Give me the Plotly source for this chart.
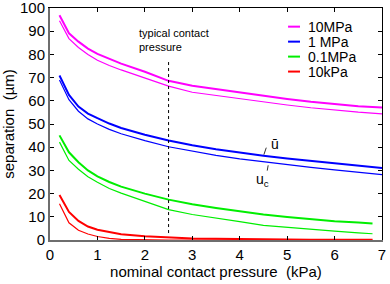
import plotly.graph_objects as go

# ---- data ----
x_long = [0.2, 0.4, 0.6, 0.8, 1.0, 1.25, 1.5, 2.0, 2.5, 3.0, 3.5, 4.0, 4.5, 5.0, 5.5, 6.0, 6.5, 7.0]
x_short = [0.2, 0.4, 0.6, 0.8, 1.0, 1.25, 1.5, 2.0, 2.5, 3.0, 3.5, 4.0, 4.5, 5.0, 5.5, 6.0, 6.5, 6.8]

mag_ubar = [96.9, 89.1, 85.5, 82.5, 80.2, 78.0, 76.0, 72.5, 68.6, 66.5, 65.0, 63.5, 62.0, 60.8, 59.6, 58.5, 57.7, 57.1]
mag_uc   = [94.5, 86.8, 83.0, 80.0, 77.5, 75.2, 73.3, 69.8, 66.3, 63.7, 62.3, 60.8, 59.5, 58.2, 57.0, 56.0, 55.1, 54.4]
blu_ubar = [70.9, 62.5, 57.5, 54.5, 52.5, 50.2, 48.3, 45.4, 42.9, 40.8, 39.1, 37.6, 36.3, 35.1, 34.0, 32.9, 31.9, 31.0]
blu_uc   = [69.0, 60.5, 55.5, 52.2, 50.0, 47.7, 45.8, 42.8, 40.2, 38.2, 36.5, 35.0, 33.7, 32.5, 31.3, 30.2, 29.1, 28.2]
grn_ubar = [45.1, 37.8, 33.5, 30.0, 27.4, 25.0, 23.0, 20.0, 17.4, 15.4, 13.8, 12.3, 11.0, 9.9, 8.9, 8.1, 7.5, 7.1]
grn_uc   = [42.2, 34.3, 30.5, 27.3, 24.9, 22.2, 20.2, 16.5, 13.1, 11.0, 9.3, 7.9, 6.3, 5.4, 4.6, 3.8, 3.1, 2.7]
red_ubar = [19.4, 12.1, 8.2, 5.8, 4.4, 3.3, 2.5, 1.6, 1.1, 0.7, 0.5, 0.35, 0.25, 0.2, 0.15, 0.1, 0.1, 0.1]
red_uc   = [15.6, 7.4, 4.2, 2.6, 1.5, 0.7, 0.3, 0.05, 0.0, 0.0, 0.0, 0.0, 0.0, 0.0, 0.0, 0.0, 0.0, 0.0]

labels = ["10MPa", "1 MPa", "0.1MPa", "10kPa"]
colors = ["#ff00ff", "#0000ff", "#00ee00", "#ff0000"]

x_ticks = [0, 1, 2, 3, 4, 5, 6, 7]
y_ticks = [0, 10, 20, 30, 40, 50, 60, 70, 80, 90, 100]
typical_pressure = 2.5

FONT = "Liberation Sans, Arial, sans-serif"

series = [
    (x_long, mag_ubar, mag_uc),
    (x_long, blu_ubar, blu_uc),
    (x_short, grn_ubar, grn_uc),
    (x_short, red_ubar, red_uc),
]

fig = go.Figure()
for (xs, ub, uc), lab, col in zip(series, labels, colors):
    fig.add_trace(go.Scatter(x=xs, y=uc, mode="lines", line=dict(color=col, width=1.2),
                             showlegend=False, hoverinfo="skip"))
    fig.add_trace(go.Scatter(x=xs, y=ub, mode="lines", line=dict(color=col, width=2),
                             name=lab, showlegend=False))

# invisible trace to activate top / right mirror axes
fig.add_trace(go.Scatter(x=[0], y=[0], xaxis="x2", yaxis="y2", mode="lines",
                         line=dict(width=0), showlegend=False, hoverinfo="skip"))

# typical contact pressure line
fig.add_shape(type="line", x0=typical_pressure, x1=typical_pressure, y0=3, y1=76.8,
              line=dict(color="black", width=1, dash="dot"))
fig.add_annotation(x=1.84, y=86.2, text="typical contact<br>pressure", showarrow=False,
                   xanchor="left", yanchor="middle", align="left",
                   font=dict(family=FONT, size=11, color="black"))

# u-bar / u_c labels with leader lines
fig.add_shape(type="line", x0=4.51, y0=36.8, x1=4.56, y1=39.8, line=dict(color="black", width=0.8))
fig.add_shape(type="line", x0=4.60, y0=32.2, x1=4.58, y1=29.9, line=dict(color="black", width=0.8))
fig.add_annotation(x=4.75, y=41.5, text="\u016b", showarrow=False,
                   font=dict(family=FONT, size=14, color="black"))
fig.add_annotation(x=4.49, y=26.0, text="u<sub>c</sub>", showarrow=False,
                   font=dict(family=FONT, size=14, color="black"))

# custom legend
leg_y = [0.9196, 0.855, 0.7905, 0.726]
for lab, col, yy in zip(labels, colors, leg_y):
    fig.add_shape(type="line", xref="paper", yref="paper", x0=0.717, x1=0.753, y0=yy, y1=yy,
                  line=dict(color=col, width=2))
    fig.add_annotation(xref="paper", yref="paper", x=0.771, y=yy, text=lab, showarrow=False,
                       xanchor="left", yanchor="middle",
                       font=dict(family=FONT, size=14, color="black"))

fig.update_layout(
    template="none",
    width=390, height=284,
    margin=dict(l=50, r=8, t=8, b=44, pad=0, autoexpand=False),
    paper_bgcolor="white", plot_bgcolor="white",
    font=dict(family=FONT, size=15, color="black"),
    xaxis=dict(range=[0, 7], tickvals=x_ticks, ticks="inside", ticklen=4, tickcolor="black",
               showline=True, linecolor="#6e6e6e", linewidth=2, showgrid=False, zeroline=False,
               ticklabeloverflow="allow", automargin=False,
               title=dict(text="nominal contact pressure  (kPa)", font=dict(size=15), standoff=2),
               tickfont=dict(size=15)),
    yaxis=dict(range=[0, 100], tickvals=y_ticks, ticks="inside", ticklen=4, tickcolor="black",
               showline=True, linecolor="#6e6e6e", linewidth=2, showgrid=False, zeroline=False,
               ticklabeloverflow="allow", automargin=False,
               title=dict(text="separation  (\u00b5m)", font=dict(size=15), standoff=10),
               tickfont=dict(size=15)),
    xaxis2=dict(range=[0, 7], overlaying="x", side="top", tickvals=x_ticks, ticks="inside",
                ticklen=4, tickcolor="black", showticklabels=False, showline=True, automargin=False,
                linecolor="black", linewidth=1, showgrid=False, zeroline=False),
    yaxis2=dict(range=[0, 100], overlaying="y", side="right", tickvals=y_ticks, ticks="inside",
                ticklen=4, tickcolor="black", showticklabels=False, showline=True, automargin=False,
                linecolor="black", linewidth=1, showgrid=False, zeroline=False),
)

fig.write_html("out.html", config={"displayModeBar": False},
               post_script="document.body.style.margin='0';")
